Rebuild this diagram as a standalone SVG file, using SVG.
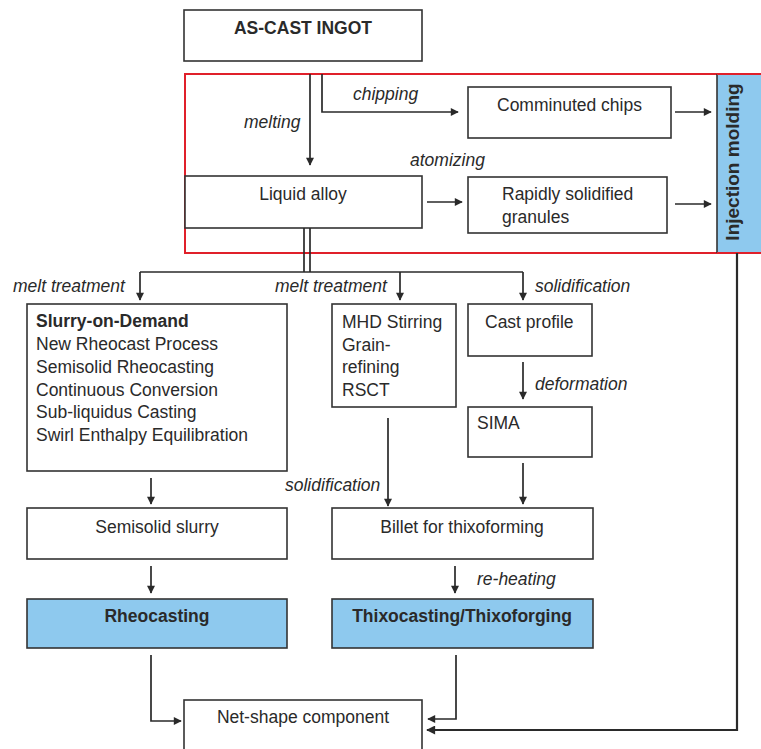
<svg xmlns="http://www.w3.org/2000/svg" width="761" height="749" viewBox="0 0 761 749">
<style>
.box{fill:#fff;stroke:#333;stroke-width:1.6}
.blue{fill:#8ec9ee;stroke:#333;stroke-width:1.6}
.t{font-family:"Liberation Sans",Arial,sans-serif;font-size:17.5px;fill:#2a2a2a}
.b{font-weight:bold}
.i{font-style:italic}
.c{text-anchor:middle}
.ln{fill:none;stroke:#2a2a2a;stroke-width:1.7}
.ar{marker-end:url(#ah)}
</style>
<defs>
<marker id="ah" viewBox="0 0 10 10" refX="9" refY="5" markerWidth="9" markerHeight="8" markerUnits="userSpaceOnUse" orient="auto">
<path d="M0,0 L10,5 L0,10 z" fill="#2a2a2a"/>
</marker>
<marker id="ah2" viewBox="0 0 10 10" refX="9" refY="5" markerWidth="10" markerHeight="9" markerUnits="userSpaceOnUse" orient="auto">
<path d="M0,0 L10,5 L0,10 z" fill="#2a2a2a"/>
</marker>
</defs>
<rect x="0" y="0" width="761" height="749" fill="#fff"/>

<g id="ingot"><rect class="box" x="184" y="10" width="238" height="51"/><text class="t b c" x="303" y="34">AS-CAST INGOT</text></g>
<g id="redframe"><rect x="185" y="74" width="580" height="179" fill="none" stroke="#e0202a" stroke-width="2"/></g>
<g id="injection"><rect x="717" y="74" width="50" height="179" fill="#8ec9ee"/><line x1="717" y1="74" x2="717" y2="253" stroke="#333" stroke-width="1.6"/><line x1="717" y1="74" x2="761" y2="74" stroke="#e0202a" stroke-width="2"/><line x1="717" y1="253" x2="761" y2="253" stroke="#e0202a" stroke-width="2"/><text class="t b c" style="font-size:19px" transform="translate(739,162) rotate(-90)" x="0" y="0">Injection molding</text></g>
<g id="chips"><rect class="box" x="468" y="87" width="203" height="51"/><text class="t" x="497" y="111">Comminuted chips</text></g>
<g id="liquid"><rect class="box" x="185" y="176" width="237" height="52"/><text class="t c" x="303" y="200">Liquid alloy</text></g>
<g id="granules"><rect class="box" x="468" y="177" width="199" height="56"/><text class="t" x="502" y="200">Rapidly solidified</text><text class="t" x="502" y="223">granules</text></g>
<g id="slurrydemand"><rect class="box" x="27" y="304" width="260" height="167"/>
<text class="t b" x="36" y="327">Slurry-on-Demand</text>
<text class="t" x="36" y="350">New Rheocast Process</text>
<text class="t" x="36" y="373">Semisolid Rheocasting</text>
<text class="t" x="36" y="396">Continuous Conversion</text>
<text class="t" x="36" y="418">Sub-liquidus Casting</text>
<text class="t" x="36" y="441">Swirl Enthalpy Equilibration</text></g>
<g id="mhd"><rect class="box" x="332" y="304" width="124" height="103"/>
<text class="t" x="342" y="328">MHD Stirring</text>
<text class="t" x="342" y="351">Grain-</text>
<text class="t" x="342" y="373">refining</text>
<text class="t" x="342" y="396">RSCT</text></g>
<g id="castprofile"><rect class="box" x="468" y="304" width="124" height="52"/><text class="t" x="485" y="328">Cast profile</text></g>
<g id="sima"><rect class="box" x="468" y="407" width="124" height="50"/><text class="t" x="477" y="429">SIMA</text></g>
<g id="slurry"><rect class="box" x="27" y="508" width="260" height="51"/><text class="t c" x="157" y="533">Semisolid slurry</text></g>
<g id="billet"><rect class="box" x="332" y="508" width="261" height="51"/><text class="t c" x="462" y="533">Billet for thixoforming</text></g>
<g id="rheocasting"><rect class="blue" x="27" y="599" width="260" height="49"/><text class="t b c" x="157" y="622">Rheocasting</text></g>
<g id="thixo"><rect class="blue" x="332" y="599" width="261" height="49"/><text class="t b c" x="462" y="622">Thixocasting/Thixoforging</text></g>
<g id="netshape"><rect class="box" x="184" y="700" width="238" height="60"/><text class="t c" x="303" y="723">Net-shape component</text></g>

<g id="connectors">
<line class="ln ar" x1="310" y1="74" x2="310" y2="165"/>
<path class="ln ar" d="M322 74 V112 H458"/>
<line class="ln ar" x1="427" y1="202" x2="462" y2="202"/>
<line class="ln ar" x1="675" y1="112" x2="711" y2="112"/>
<line class="ln ar" x1="675" y1="204" x2="711" y2="204"/>
<line class="ln" x1="304" y1="228" x2="304" y2="272"/>
<line class="ln" x1="310" y1="228" x2="310" y2="272"/>
<line class="ln" x1="140" y1="272" x2="523" y2="272"/>
<line class="ln ar" x1="140" y1="272" x2="140" y2="300"/>
<line class="ln ar" x1="400" y1="272" x2="400" y2="300"/>
<line class="ln ar" x1="523" y1="272" x2="523" y2="300"/>
<line class="ln ar" x1="523" y1="362" x2="523" y2="399"/>
<line class="ln ar" x1="523" y1="463" x2="523" y2="504"/>
<line class="ln ar" x1="388" y1="418" x2="388" y2="506"/>
<line class="ln ar" x1="151" y1="478" x2="151" y2="504"/>
<line class="ln ar" x1="151" y1="566" x2="151" y2="593"/>
<line class="ln ar" x1="455" y1="566" x2="455" y2="593"/>
<path class="ln ar" d="M151 655 V721 H181"/>
<path class="ln ar" d="M456 655 V719 H428"/>
<path fill="none" stroke="#2a2a2a" stroke-width="2.2" marker-end="url(#ah2)" d="M737 253 V730 H427"/>
</g>

<g id="labels">
<text class="t i" x="244" y="128">melting</text>
<text class="t i" x="353" y="100">chipping</text>
<text class="t i" x="410" y="166">atomizing</text>
<text class="t i" x="13" y="292">melt treatment</text>
<text class="t i" x="275" y="292">melt treatment</text>
<text class="t i" x="535" y="292">solidification</text>
<text class="t i" x="535" y="390">deformation</text>
<text class="t i" x="285" y="491">solidification</text>
<text class="t i" x="477" y="585">re-heating</text>
</g>
</svg>
